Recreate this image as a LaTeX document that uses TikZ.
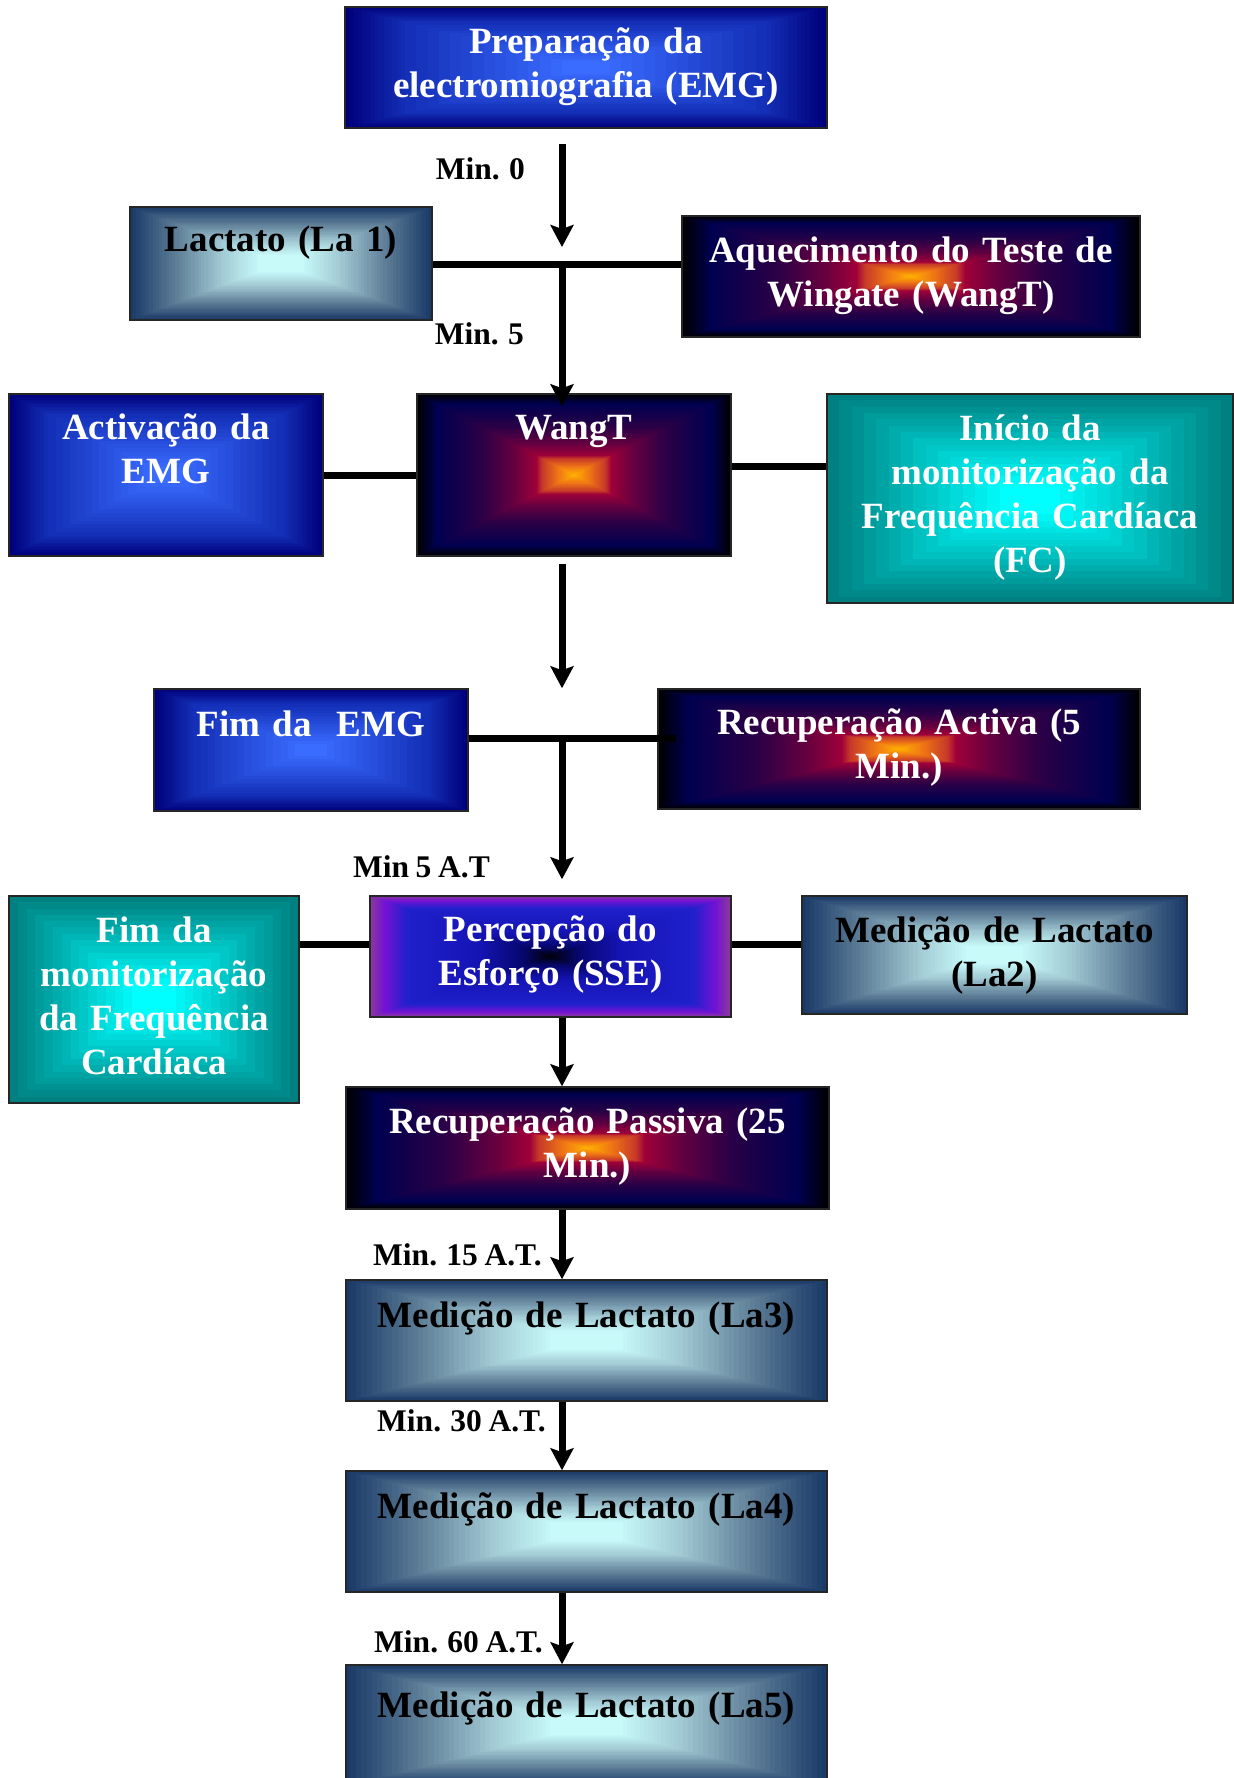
\documentclass[tikz,border=0pt]{standalone}
\usepackage{fontspec}
\setmainfont[WordSpace=0.85]{Liberation Serif}
\usetikzlibrary{calc,arrows.meta}

\definecolor{blueA}{HTML}{00007A}
\definecolor{blueM}{HTML}{1430B8}
\definecolor{blueB}{HTML}{3A6CFF}
\definecolor{laA}{HTML}{1A3A68}
\definecolor{laB}{HTML}{5F7F98}
\definecolor{laC}{HTML}{A2CAD4}
\definecolor{laD}{HTML}{C8FAFA}
\definecolor{tealA}{HTML}{008080}
\definecolor{tealB}{HTML}{00FFFF}
\definecolor{fireA}{HTML}{000050}
\definecolor{fireB}{HTML}{2A0046}
\definecolor{fireC}{HTML}{680040}
\definecolor{fireD}{HTML}{A00038}
\definecolor{fireE}{HTML}{C83C28}
\definecolor{fireF}{HTML}{F07814}
\definecolor{fireG}{HTML}{FFB400}
\definecolor{purA}{HTML}{8A3A9A}
\definecolor{purB}{HTML}{7412D4}
\definecolor{purC}{HTML}{2020CC}
\definecolor{purD}{HTML}{1414B4}
\definecolor{purE}{HTML}{06066A}

% colour bands: outer colour/inner colour/from/to
\def\bluebands{blueA/blueM/0/0.25,blueM/blueB/0.25/0.9,blueB/blueB/0.9/1}
\def\labands{laA/laB/0/0.3,laB/laC/0.3/0.6,laC/laD/0.6/0.85,laD/laD/0.85/1}
\def\tealbands{tealA/tealB/0/0.85,tealB/tealB/0.85/1}
\def\firebands{black/fireA/0/0.12,fireA/fireB/0.12/0.4,fireB/fireC/0.4/0.62,fireC/fireD/0.62/0.76,fireD/fireE/0.76/0.8,fireE/fireF/0.8/0.9,fireF/fireG/0.9/1}
\def\purplebands{purA/purB/0/0.08,purB/purC/0.08/0.2,purC/purD/0.2/0.6,purD/purE/0.6/0.85,purE/black/0.85/1}

\newcommand\bandfill[1]{%
  \foreach \bandA/\bandB/\tA/\tB in #1 {%
    \foreach \k in {0,...,13} {%
      \pgfmathsetmacro\bt{\tA+(\tB-\tA)*\k/14}%
      \pgfmathtruncatemacro\bp{100*\k/14}%
      \fill[\bandB!\bp!\bandA]
        ($(path picture bounding box.center)!{1-\bt}!(path picture bounding box.south west)$)
        rectangle
        ($(path picture bounding box.center)!{1-\bt}!(path picture bounding box.north east)$);
    }
  }%
}
\newcommand\boxfont{\fontsize{37}{44}\selectfont\bfseries}
\newcommand\minfont{\fontsize{31.5}{36}\selectfont\bfseries}

\begin{document}
\begin{tikzpicture}[x=1pt,y=-1pt,
  stage/.style={draw=black!85, line width=1.5pt, inner sep=0pt},
  bluebox/.style={stage, path picture={\bandfill{\bluebands}}},
  labox/.style={stage, path picture={\bandfill{\labands}}},
  tealbox/.style={stage, path picture={\bandfill{\tealbands}}},
  firebox/.style={stage, path picture={\bandfill{\firebands}}},
  purplebox/.style={stage, path picture={\bandfill{\purplebands}}},
  lighttxt/.style={font=\boxfont, text=white, align=center, text width=470pt, inner sep=0pt, anchor=base},
  darktxt/.style={lighttxt, text=black},
  mintxt/.style={font=\minfont, inner sep=0pt, anchor=base east},
  link/.style={line width=7pt},
  flow/.style={link, -{Stealth[length=22pt,width=23pt,inset=4pt]}}]
\useasboundingbox (0,0) rectangle (1234,1778);

% boxes
\node[bluebox, minimum width=482pt, minimum height=121pt] (prep) at (586,67.5) {};
\node[labox, minimum width=302pt, minimum height=113pt] (lac1) at (281,263.5) {};
\node[firebox, minimum width=458pt, minimum height=121pt] (aquec) at (911,276.5) {};
\node[bluebox, minimum width=314pt, minimum height=162pt] (act) at (166,475) {};
\node[firebox, minimum width=314pt, minimum height=162pt] (wangt) at (574,475) {};
\node[tealbox, minimum width=406pt, minimum height=209pt] (inicio) at (1030,498.5) {};
\node[bluebox, minimum width=314pt, minimum height=122pt] (fimemg) at (311,750) {};
\node[firebox, minimum width=482pt, minimum height=120pt] (recact) at (899,749) {};
\node[tealbox, minimum width=290pt, minimum height=207pt] (fimmon) at (154,999.5) {};
\node[purplebox, minimum width=361pt, minimum height=121pt] (perc) at (550.5,956.5) {};
\node[labox, minimum width=385pt, minimum height=118pt] (la2) at (994.5,955) {};
\node[firebox, minimum width=483pt, minimum height=122pt] (recpas) at (587.5,1148) {};
\node[labox, minimum width=481pt, minimum height=121pt] (la3) at (586.5,1340.5) {};
\node[labox, minimum width=481pt, minimum height=121pt] (la4) at (586.5,1531.5) {};
\node[labox, minimum width=481pt, minimum height=121pt] (la5) at (586.5,1725.5) {};

% connectors
\coordinate (spine) at (562,0);
\coordinate (j1) at (562,264);
\coordinate (j2) at (562,738);
\coordinate (lvl3) at (562,944);

\draw[flow, shorten <=15pt, shorten >=17pt] (prep.south -| spine) -- (j1);
\draw[link] (lac1.east |- j1) -- (aquec.west |- j1);
\draw[flow, shorten >=-13pt] (j1) -- (wangt.north -| spine);
\draw[link] (act.east) -- (wangt.west);
\draw[link] ($(wangt.east)+(0,-9)$) -- ($(wangt.east -| inicio.west)+(0,-9)$);
\draw[flow, shorten <=7pt] (wangt.south -| spine) -- (fimemg.north -| spine);
\draw[link, shorten >=-19pt] (fimemg.east |- j2) -- (recact.west |- j2);
\draw[flow, shorten >=16pt] (j2) -- (perc.north -| spine);
\draw[link] (fimmon.east |- lvl3) -- (perc.west |- lvl3);
\draw[link] (perc.east |- lvl3) -- (la2.west |- lvl3);
\draw[flow] (perc.south -| spine) -- (recpas.north -| spine);
\draw[flow] (recpas.south -| spine) -- (la3.north -| spine);
\draw[flow] (la3.south -| spine) -- (la4.north -| spine);
\draw[flow] (la4.south -| spine) -- (la5.north -| spine);

% texts
\node[lighttxt] (prep-txt) at ([yshift=-47pt]prep.north) {Preparação da\\electromiografia (EMG)};
\node[darktxt] (lac1-txt) at ([yshift=-45pt]lac1.north) {Lactato (La 1)};
\node[lighttxt] (aquec-txt) at ([yshift=-47pt]aquec.north) {Aquecimento do Teste de\\Wingate (WangT)};
\node[lighttxt] (act-txt) at ([yshift=-46pt]act.north) {Activação da\\EMG};
\node[lighttxt] (wangt-txt) at ([yshift=-46pt]wangt.north) {WangT};
\node[lighttxt] (inicio-txt) at ([yshift=-47pt]inicio.north) {Início da\\monitorização da\\Frequência Cardíaca\\(FC)};
\node[lighttxt] (fimemg-txt) at ([yshift=-48pt]fimemg.north) {Fim da~ EMG};
\node[lighttxt] (recact-txt) at ([yshift=-46pt]recact.north) {Recuperação Activa (5\\Min.)};
\node[lighttxt] (fimmon-txt) at ([yshift=-47pt]fimmon.north) {Fim da\\monitorização\\da Frequência\\Cardíaca};
\node[lighttxt] (perc-txt) at ([yshift=-46pt]perc.north) {Percepção do\\Esforço (SSE)};
\node[darktxt] (la2-txt) at ([yshift=-47pt]la2.north) {Medição de Lactato\\(La2)};
\node[lighttxt] (recpas-txt) at ([yshift=-47pt]recpas.north) {Recuperação Passiva (25\\Min.)};
\node[darktxt] (la3-txt) at ([yshift=-48pt]la3.north) {Medição de Lactato (La3)};
\node[darktxt] (la4-txt) at ([yshift=-48pt]la4.north) {Medição de Lactato (La4)};
\node[darktxt] (la5-txt) at ([yshift=-53pt]la5.north) {Medição de Lactato (La5)};

% time marks
\node[mintxt] (min0) at (525,179) {Min. 0};
\node[mintxt] (min5) at (524,344) {Min. 5};
\node[mintxt] (min5at) at (490,877) {Min 5 A.T};
\node[mintxt] (min15) at (542,1265) {Min. 15 A.T.};
\node[mintxt] (min30) at (546,1431) {Min. 30 A.T.};
\node[mintxt] (min60) at (543,1652) {Min. 60 A.T.};
\end{tikzpicture}
\end{document}
